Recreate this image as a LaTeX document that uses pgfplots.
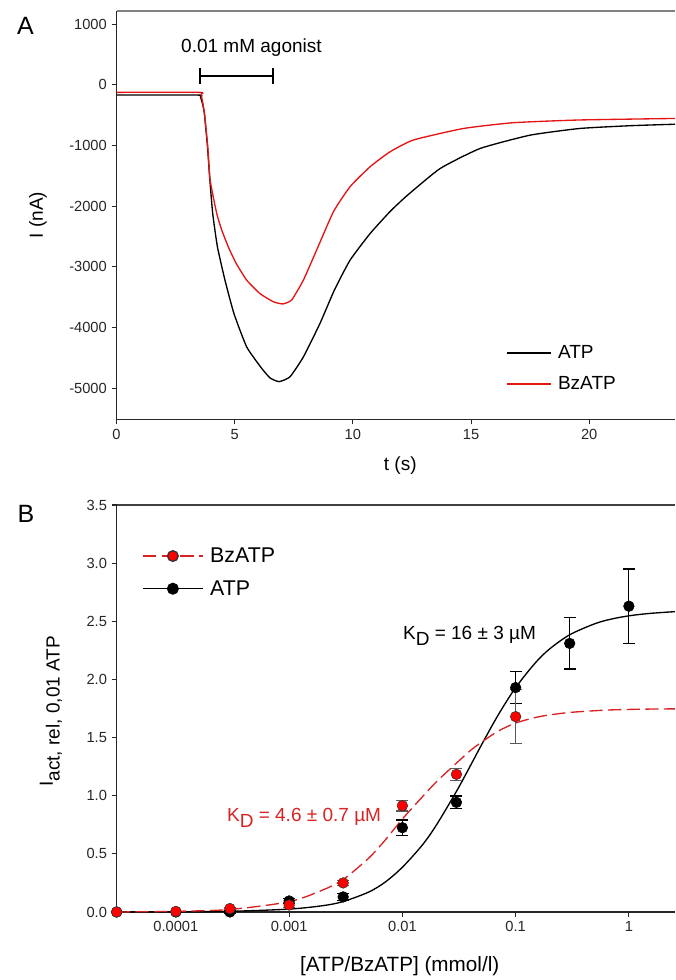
\documentclass[border=0pt]{standalone}
\usepackage{fontspec}
\setmainfont{Liberation Sans}
\usepackage{pgfplots}
\pgfplotsset{compat=1.18}

\definecolor{trred}{RGB}{228,20,20}
\definecolor{fitred}{RGB}{215,35,35}
\newcommand{\txt}{\fontsize{14.25}{17}\selectfont}
\newcommand{\tck}{\fontsize{11}{13}\selectfont}

\pgfplotsset{
  panel/.style={
    scale only axis, axis lines=left, axis line style={-, line width=0.8pt, black!85},
    tick align=outside, major tick length=3.75pt, tick style={line width=0.8pt, black!85},
    tick label style={font=\tck, black!85}, label style={font=\txt},
    /pgf/number format/assume math mode=true, clip=false,
  }
}

% Hill fits
\pgfplotstableread{
x       atp     bz
3e-5    0.000   0.000
1e-4    0.002   0.006
3e-4    0.006   0.022
1e-3    0.025   0.089
2e-3    0.055   0.191
3e-3    0.090   0.280
5e-3    0.170   0.460
7e-3    0.255   0.615
0.01    0.385   0.800
0.015   0.576   0.990
0.02    0.749   1.120
0.03    1.037   1.280
0.04    1.261   1.390
0.05    1.438   1.460
0.07    1.693   1.555
0.1     1.930   1.625
0.15    2.145   1.673
0.2     2.263   1.695
0.3     2.384   1.716
0.5     2.479   1.731
0.7     2.519   1.738
1       2.547   1.742
1.5     2.567   1.745
2.55    2.583   1.747
}\fits

\begin{document}
\begin{tikzpicture}

\node[font=\fontsize{18.75}{20}\selectfont] at (19.1pt,-19.5pt) {A};
\node[font=\fontsize{18.75}{20}\selectfont] at (19.5pt,-385.5pt) {B};

% ---------- panel A: current traces
\begin{axis}[panel, at={(87.375pt,-8.25pt)}, anchor=north west,
  width=418.9pt, height=306.2pt,
  xmin=0, xmax=23.63, ymin=-5510, ymax=1215,
  xtick={0,5,10,15,20}, ytick={-5000,-4000,...,1000},
  scaled y ticks=false,
  yticklabel style={/pgf/number format/set thousands separator={}},
  xlabel={t (s)}, ylabel={I (nA)},
  xlabel style={at={(axis description cs:0.508,-0.114)}, anchor=center},
  ylabel style={at={(axis description cs:-0.1406,0.5)}, anchor=center},
  legend image code/.code={\draw[#1] (0pt,0pt) -- (33pt,0pt);},
  legend style={at={(rel axis cs:0.697,0.185)}, anchor=north west, draw=none, fill=none,
    font=\txt, inner sep=0pt, row sep=10pt, nodes={inner xsep=5pt, inner ysep=1pt}},
  legend cell align=left,
]
\draw[black!50, line width=0.8pt] (rel axis cs:0,1) -- (rel axis cs:1,1);

\addplot[black, line width=1pt, smooth, tension=0.3] coordinates {
  (0,-170)(3.45,-170)(3.55,-200)(3.65,-330)(3.72,-480)(3.85,-1020)(3.95,-1570)
  (4.07,-2120)(4.27,-2670)(4.59,-3220)(4.97,-3770)(5.51,-4320)(6.14,-4670)
  (6.5,-4830)(6.88,-4890)(7.34,-4810)(7.91,-4480)(8.61,-3930)(9.22,-3380)
  (9.88,-2890)(10.73,-2450)(11.57,-2090)(12.28,-1830)(13.69,-1380)
  (15.38,-1050)(17.5,-830)(19.6,-720)(21.7,-675)(23.63,-650)
};
\addlegendentry{ATP}
\addplot[trred, line width=1pt, smooth, tension=0.3] coordinates {
  (0,-125)(3.5,-125)(3.58,-160)(3.65,-300)(3.72,-470)(3.86,-1020)(3.96,-1570)
  (4.24,-2120)(4.45,-2390)(4.73,-2670)(5.06,-2940)(5.51,-3220)(6.07,-3440)
  (6.64,-3575)(7.03,-3610)(7.41,-3545)(7.91,-3215)(8.47,-2720)(9.18,-2090)
  (9.88,-1680)(10.73,-1350)(11.57,-1105)(12.56,-910)(14.68,-720)
  (16.79,-625)(19.6,-580)(23.63,-555)
};
\addlegendentry{BzATP}

\node[anchor=base, inner sep=0pt, font=\txt] at (axis cs:5.71,539) {0.01 mM agonist};
\draw[line width=1.5pt] (axis cs:3.53,143) -- (axis cs:6.61,143);
\draw[line width=1.5pt] (axis cs:3.53,13) -- (axis cs:3.53,273);
\draw[line width=1.5pt] (axis cs:6.61,13) -- (axis cs:6.61,273);
\end{axis}

% ---------- panel B: dose response
\begin{axis}[panel, at={(87.5pt,-378.75pt)}, anchor=north west,
  width=418.7pt, height=305.25pt,
  xmode=log, xmin=3e-5, xmax=2.55, ymin=0, ymax=3.5,
  xtick={1e-4,1e-3,1e-2,1e-1,1}, xticklabels={0.0001,0.001,0.01,0.1,1},
  xminorticks=false,
  ytick={0,0.5,...,3.5},
  yticklabel style={/pgf/number format/.cd, fixed, fixed zerofill, precision=1},
  xlabel={[ATP/BzATP] (mmol/l)},
  ylabel={I\raisebox{-0.35em}{act, rel, 0,01 ATP}},
  xlabel style={font=\fontsize{15.5}{18}\selectfont, at={(axis description cs:0.507,-0.133)}, anchor=center},
  ylabel style={at={(axis description cs:-0.1177,0.493)}, anchor=center},
  legend image code/.code={\draw[mark repeat=2,mark phase=2,#1] plot coordinates {(0pt,0pt) (22.5pt,0pt) (45pt,0pt)};},
  legend style={at={(rel axis cs:0.0453,0.899)}, anchor=north west, draw=none, fill=none,
    font=\fontsize{16}{18}\selectfont, inner sep=0pt, row sep=10pt, nodes={inner xsep=5pt, inner ysep=1pt}},
  legend cell align=left,
]
\draw[black!75, line width=0.8pt] (rel axis cs:0,1) -- (rel axis cs:1,1);

\addlegendimage{fitred, line width=1pt, dash pattern=on 10pt off 4pt, mark=*, mark size=4pt,
  mark options={solid, fill=red, draw=black!80}}
\addlegendentry{BzATP}
\addlegendimage{black, line width=1pt, mark=*, mark size=4pt, mark options={solid, fill=black}}
\addlegendentry{ATP}

\addplot[forget plot, black, line width=1pt, smooth, tension=0.5] table[x=x, y=atp] {\fits};
\addplot[forget plot, fitred, line width=1pt, smooth, tension=0.5, dash pattern=on 10pt off 4pt] table[x=x, y=bz] {\fits};

\addplot[forget plot, only marks, mark=*, mark size=4pt, black, fill=black,
  error bars/.cd, y dir=both, y explicit,
  error bar style={black, line width=0.9pt},
  error mark options={rotate=90, mark size=4.5pt, black, line width=0.9pt}]
  coordinates {
  (3e-5,0) +- (0,0)
  (1e-4,0) +- (0,0)
  (3e-4,0) +- (0,0.01)
  (1e-3,0.095) +- (0,0.02)
  (3e-3,0.13) +- (0,0.03)
  (1e-2,0.725) +- (0,0.067)
  (3e-2,0.943) +- (0,0.055)
  (0.1,1.93) +- (0,0.14)
  (0.3,2.31) +- (0,0.22)
  (1,2.63) +- (0,0.32)
  };
\addplot[forget plot, only marks, mark=*, mark size=4pt, draw=black!80, fill=red,
  error bars/.cd, y dir=both, y explicit,
  error bar style={black!65, line width=0.9pt},
  error mark options={rotate=90, mark size=4.5pt, black!65, line width=0.9pt}]
  coordinates {
  (3e-5,0) +- (0,0)
  (1e-4,0.005) +- (0,0)
  (3e-4,0.03) +- (0,0.01)
  (1e-3,0.06) +- (0,0.02)
  (3e-3,0.25) +- (0,0.02)
  (1e-2,0.914) +- (0,0.045)
  (3e-2,1.184) +- (0,0.05)
  (0.1,1.68) +- (0,0.23)
  };

\node[anchor=base west, inner sep=0pt, font=\txt] at (axis cs:0.0101,2.34)
  {K\raisebox{-0.3em}{D} = 16 ± 3 µM};
\node[anchor=base west, inner sep=0pt, font=\txt, text=fitred] at (axis cs:2.82e-4,0.776)
  {K\raisebox{-0.3em}{D} = 4.6 ± 0.7 µM};
\end{axis}

\pgfresetboundingbox
\useasboundingbox (0,0) rectangle (506.25pt,-735pt);
\end{tikzpicture}
\end{document}
